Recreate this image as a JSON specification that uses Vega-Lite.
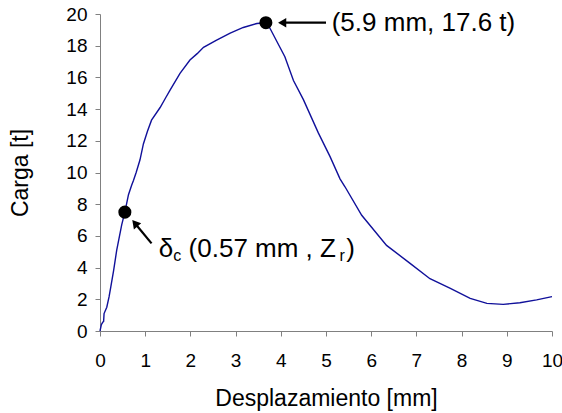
{
  "$schema": "https://vega.github.io/schema/vega-lite/v6.json",
  "width": 452,
  "height": 317,
  "autosize": {"type": "none"},
  "padding": {"left": 100, "top": 14, "right": 10, "bottom": 82},
  "background": "white",
  "config": {"view": {"stroke": null}, "font": "Liberation Sans"},
  "datasets": {
    "curve": [
      {"x": 0, "y": 0}, {"x": 0.03, "y": 0.4}, {"x": 0.06, "y": 0.55}, {"x": 0.08, "y": 0.6},
      {"x": 0.09, "y": 1.1}, {"x": 0.15, "y": 1.5}, {"x": 0.2, "y": 2.15}, {"x": 0.24, "y": 2.8},
      {"x": 0.3, "y": 3.8}, {"x": 0.37, "y": 5.1}, {"x": 0.48, "y": 6.7}, {"x": 0.55, "y": 7.5},
      {"x": 0.63, "y": 8.6}, {"x": 0.7, "y": 9.2}, {"x": 0.74, "y": 9.5}, {"x": 0.8, "y": 10.0},
      {"x": 0.885, "y": 10.8}, {"x": 0.96, "y": 11.8}, {"x": 1.05, "y": 12.6}, {"x": 1.14, "y": 13.3},
      {"x": 1.33, "y": 14.1}, {"x": 1.45, "y": 14.7}, {"x": 1.55, "y": 15.2}, {"x": 1.77, "y": 16.25},
      {"x": 1.99, "y": 17.1}, {"x": 2.15, "y": 17.5}, {"x": 2.29, "y": 17.9}, {"x": 2.58, "y": 18.35},
      {"x": 2.88, "y": 18.8}, {"x": 3.17, "y": 19.15}, {"x": 3.47, "y": 19.4}, {"x": 3.67, "y": 19.45},
      {"x": 3.76, "y": 19.1}, {"x": 4.09, "y": 17.3}, {"x": 4.28, "y": 15.8}, {"x": 4.5, "y": 14.6},
      {"x": 4.83, "y": 12.5}, {"x": 5.09, "y": 11.0}, {"x": 5.31, "y": 9.6}, {"x": 5.42, "y": 9.1},
      {"x": 5.79, "y": 7.3}, {"x": 6.34, "y": 5.4}, {"x": 6.86, "y": 4.27}, {"x": 7.3, "y": 3.3},
      {"x": 7.74, "y": 2.7}, {"x": 8.19, "y": 2.06}, {"x": 8.56, "y": 1.74}, {"x": 8.92, "y": 1.68},
      {"x": 9.29, "y": 1.78}, {"x": 9.66, "y": 1.96}, {"x": 10.0, "y": 2.17}
    ],
    "dots": [{"x": 0.55, "y": 7.5}, {"x": 3.67, "y": 19.45}],
    "arrows": [
      {"x": 4.03, "y": 19.45, "x2": 5.0, "y2": 19.45},
      {"x": 0.772, "y": 6.8, "x2": 1.14, "y2": 5.53}
    ],
    "headTop": [{"x": 4.03, "y": 19.45}],
    "headLow": [{"x": 0.772, "y": 6.8}],
    "labels": [
      {"x": 5.126, "y": 18.94, "t": "(5.9 mm, 17.6 t)"},
      {"x": 1.3, "y": 4.64, "t": "δ"},
      {"x": 1.96, "y": 4.64, "t": "(0.57 mm , Z"},
      {"x": 5.45, "y": 4.64, "t": ")"}
    ],
    "subs": [
      {"x": 1.62, "y": 4.42, "t": "c"},
      {"x": 5.3, "y": 4.42, "t": "r"}
    ]
  },
  "encoding": {
    "x": {
      "field": "x", "type": "quantitative",
      "scale": {"domain": [0, 10], "nice": false},
      "axis": {
        "title": "Desplazamiento [mm]", "values": [0,1,2,3,4,5,6,7,8,9,10], "tickCount": 12,
        "grid": false, "domainColor": "#808080", "tickColor": "#808080", "tickSize": 5,
        "labelFontSize": 19, "labelColor": "black", "labelPadding": 15, "labelFlush": false, "labelOverlap": false,
        "titleFontSize": 23, "titleFontWeight": "normal", "titleColor": "black", "titlePadding": 17
      }
    },
    "y": {
      "field": "y", "type": "quantitative",
      "scale": {"domain": [0, 20], "nice": false},
      "axis": {
        "title": "Carga [t]", "values": [0,2,4,6,8,10,12,14,16,18,20], "tickCount": 12,
        "grid": false, "domainColor": "#808080", "tickColor": "#808080", "tickSize": 5,
        "labelFontSize": 19, "labelColor": "black", "labelPadding": 8, "labelFlush": false, "labelOverlap": false,
        "titleFontSize": 23, "titleFontWeight": "normal", "titleColor": "black", "titlePadding": 33
      }
    }
  },
  "layer": [
    {
      "data": {"name": "curve"},
      "mark": {"type": "line", "color": "#10109a", "strokeWidth": 1.4}
    },
    {
      "data": {"name": "dots"},
      "mark": {"type": "point", "filled": true, "color": "black", "opacity": 1, "size": 170}
    },
    {
      "data": {"name": "arrows"},
      "mark": {"type": "rule", "color": "black", "strokeWidth": 2.2},
      "encoding": {
        "x2": {"field": "x2"},
        "y2": {"field": "y2"}
      }
    },
    {
      "data": {"name": "headTop"},
      "mark": {"type": "point", "shape": "triangle-left", "filled": true, "color": "black", "opacity": 1, "size": 90}
    },
    {
      "data": {"name": "headLow"},
      "mark": {"type": "point", "shape": "triangle-up", "angle": 320, "filled": true, "color": "black", "opacity": 1, "size": 90}
    },
    {
      "data": {"name": "labels"},
      "mark": {"type": "text", "align": "left", "baseline": "alphabetic", "fontSize": 26, "color": "black"},
      "encoding": {"text": {"field": "t"}}
    },
    {
      "data": {"name": "subs"},
      "mark": {"type": "text", "align": "left", "baseline": "alphabetic", "fontSize": 16, "color": "black"},
      "encoding": {"text": {"field": "t"}}
    }
  ]
}
